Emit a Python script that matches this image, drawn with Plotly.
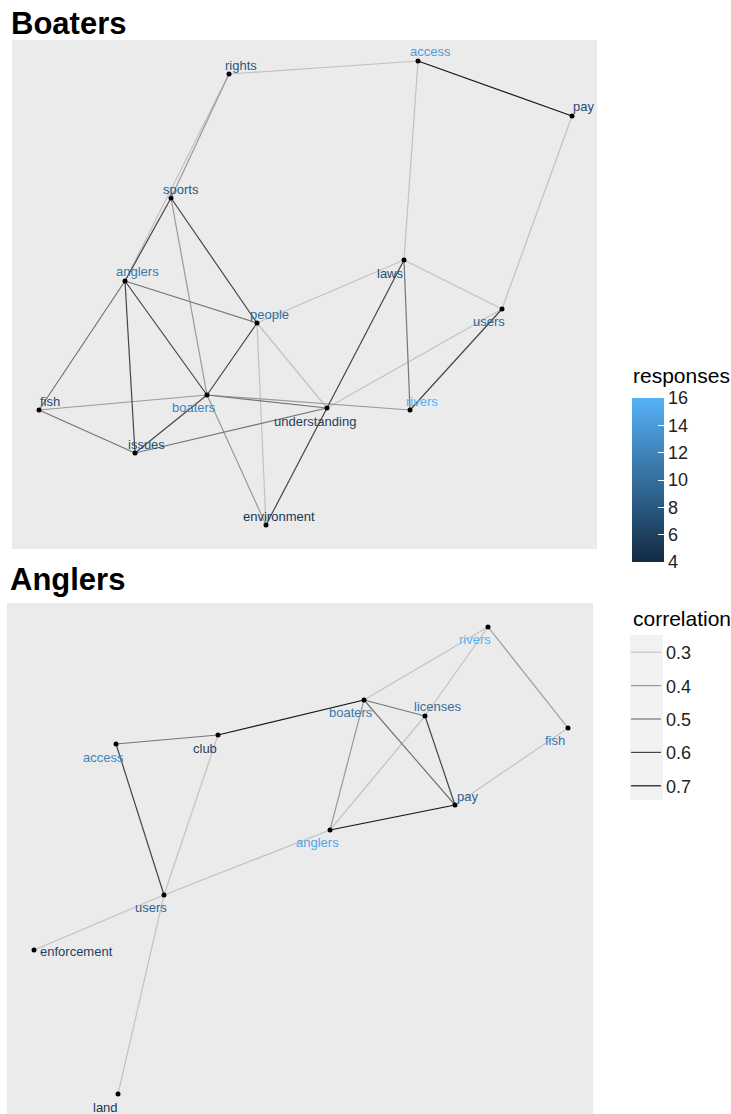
import plotly.graph_objects as go

W, H = 731, 1114

# ---------------- data ----------------
# Boaters network: node layout coordinates and responses
b_nodes = ["rights", "access", "pay", "sports", "anglers", "laws", "people", "users",
           "fish", "boaters", "understanding", "rivers", "issues", "environment"]
b_x = [229, 418, 572, 171, 125, 404, 257, 502, 39, 207, 327, 410, 135, 266]
b_y = [74, 61, 116, 198, 281, 260, 323, 309, 410, 395, 408, 410, 453, 525]
b_resp = [8, 14, 7, 8, 11, 7, 10, 9, 7, 12, 6, 16, 7, 5]

b_from = ["rights", "rights", "rights", "access", "access", "pay", "sports", "sports", "sports",
          "anglers", "anglers", "anglers", "anglers", "people", "people", "people", "people",
          "fish", "fish", "issues", "issues", "boaters", "boaters", "boaters",
          "understanding", "understanding", "understanding", "laws", "laws", "rivers"]
b_to = ["access", "sports", "anglers", "pay", "laws", "users", "anglers", "boaters", "people",
        "people", "boaters", "issues", "fish", "boaters", "laws", "environment", "understanding",
        "boaters", "issues", "boaters", "understanding", "understanding", "rivers", "environment",
        "laws", "environment", "users", "rivers", "users", "users"]
b_corr = [0.3, 0.4, 0.3, 0.7, 0.3, 0.3, 0.6, 0.4, 0.6,
          0.5, 0.6, 0.6, 0.5, 0.6, 0.3, 0.3, 0.3,
          0.4, 0.5, 0.6, 0.5, 0.5, 0.4, 0.4,
          0.6, 0.6, 0.3, 0.5, 0.3, 0.6]

# Anglers network
a_nodes = ["rivers", "boaters", "licenses", "fish", "pay", "anglers", "club", "access",
           "users", "enforcement", "land"]
a_x = [488, 364, 425, 568, 455, 330, 218, 116, 164, 34, 118]
a_y = [627, 700, 716, 728, 805, 830, 735, 744, 895, 950, 1094]
a_resp = [16, 11, 10, 11, 9, 15, 6, 12, 9, 6, 5]

a_from = ["rivers", "rivers", "licenses", "rivers", "boaters", "boaters", "boaters", "boaters",
          "licenses", "pay", "pay", "club", "club", "access", "users", "users", "users"]
a_to = ["boaters", "licenses", "anglers", "fish", "club", "licenses", "anglers", "pay",
        "pay", "anglers", "fish", "access", "users", "users", "anglers", "enforcement", "land"]
a_corr = [0.3, 0.3, 0.3, 0.4, 0.7, 0.5, 0.4, 0.5,
          0.6, 0.7, 0.3, 0.5, 0.3, 0.6, 0.3, 0.3, 0.3]

corr_levels = [0.3, 0.4, 0.5, 0.6, 0.7]
resp_min, resp_max = 4, 16
resp_ticks = [4, 6, 8, 10, 12, 14, 16]

# ---------------- styles ----------------
edge_colors = {0.3: "#c2c2c2", 0.4: "#9a9a9a", 0.5: "#757575", 0.6: "#454545", 0.7: "#141414"}
LOW, HIGH = "#132B43", "#56B1F7"
PANEL_BG = "#EBEBEB"
FONT = "Liberation Sans, Arial, sans-serif"

# label offsets in pixels (dx right, dy down)
b_off = {"rights": (12, -9), "access": (12, -10), "pay": (11, -10), "sports": (10, -9),
         "anglers": (12, -10), "laws": (-14, 13), "people": (12, -9), "users": (-13, 12),
         "fish": (11, -9), "boaters": (-13, 12), "understanding": (-12, 13), "rivers": (12, -9),
         "issues": (11, -9), "environment": (13, -9)}
a_off = {"rivers": (-13, 12), "boaters": (-13, 12), "licenses": (12, -10), "fish": (-13, 12),
         "pay": (12, -9), "anglers": (-13, 12), "club": (-13, 13), "access": (-13, 13),
         "users": (-13, 12), "enforcement": (42, 1), "land": (-13, 13)}


def hex2rgb(h):
    h = h.lstrip("#")
    return [int(h[i:i + 2], 16) for i in (0, 2, 4)]


def resp_color(v):
    t = (v - resp_min) / (resp_max - resp_min)
    lo, hi = hex2rgb(LOW), hex2rgb(HIGH)
    c = [round(lo[i] + (hi[i] - lo[i]) * t) for i in range(3)]
    return "rgb(%d,%d,%d)" % tuple(c)


fig = go.Figure()


def add_network(nodes, xs, ys, resp, efrom, eto, ecorr, offs, xa, ya, showlegend):
    pos = {n: (x, y) for n, x, y in zip(nodes, xs, ys)}
    for lvl in corr_levels:
        ex, ey = [], []
        for f, t, c in zip(efrom, eto, ecorr):
            if c == lvl:
                ex += [pos[f][0], pos[t][0], None]
                ey += [pos[f][1], pos[t][1], None]
        fig.add_trace(go.Scatter(
            x=ex if ex else [None], y=ey if ey else [None], mode="lines",
            line=dict(color=edge_colors[lvl], width=1.2),
            name=str(lvl), legendgroup=str(lvl), showlegend=showlegend,
            hoverinfo="skip", xaxis=xa, yaxis=ya))
    fig.add_trace(go.Scatter(
        x=xs, y=ys, mode="markers", marker=dict(color="black", size=5),
        showlegend=False, hoverinfo="text", text=nodes, xaxis=xa, yaxis=ya))
    for n, x, y, r in zip(nodes, xs, ys, resp):
        dx, dy = offs[n]
        fig.add_annotation(x=x, y=y, xref=xa, yref=ya, text=n, showarrow=False,
                           xshift=dx, yshift=-dy,
                           font=dict(family=FONT, size=13, color=resp_color(r)))


add_network(b_nodes, b_x, b_y, b_resp, b_from, b_to, b_corr, b_off, "x", "y", True)
add_network(a_nodes, a_x, a_y, a_resp, a_from, a_to, a_corr, a_off, "x2", "y2", False)

# colourbar for responses
fig.add_trace(go.Scatter(
    x=[None], y=[None], mode="markers", showlegend=False, hoverinfo="skip",
    marker=dict(color=[resp_min], cmin=resp_min, cmax=resp_max,
                colorscale=[[0, LOW], [1, HIGH]], showscale=True,
                colorbar=dict(
                    x=632 / W, xanchor="left", xpad=0,
                    y=1 - 398 / H, yanchor="top", ypad=0,
                    len=164, lenmode="pixels", thickness=32, thicknessmode="pixels",
                    tickvals=resp_ticks, ticks="inside", ticklen=6, tickcolor="white",
                    tickfont=dict(family=FONT, size=18, color="#222"),
                    outlinewidth=0)),
    xaxis="x", yaxis="y"))

# panels
fig.update_layout(
    width=W, height=H, margin=dict(l=0, r=0, t=0, b=0),
    paper_bgcolor="white", plot_bgcolor=PANEL_BG,
    xaxis=dict(domain=[12 / W, 597 / W], range=[12, 597], visible=False, fixedrange=True),
    yaxis=dict(domain=[1 - 549 / H, 1 - 40 / H], range=[549, 40], visible=False, fixedrange=True),
    xaxis2=dict(domain=[7 / W, 593 / W], range=[7, 593], visible=False, fixedrange=True),
    yaxis2=dict(domain=[0, 1 - 603 / H], range=[1114, 603], visible=False, fixedrange=True),
    legend=dict(
        x=626 / W, xanchor="left", y=1 - 634 / H, yanchor="top",
        bgcolor="rgba(0,0,0,0)", font=dict(family=FONT, size=18, color="#222"),
        tracegroupgap=7, itemwidth=30),
    showlegend=True,
)

# legend titles
fig.add_annotation(x=631 / W, y=1 - 376 / H, xref="paper", yref="paper", xanchor="left",
                   yanchor="middle", text="responses", showarrow=False,
                   font=dict(family=FONT, size=21, color="black"))
fig.add_annotation(x=631 / W, y=1 - 618 / H, xref="paper", yref="paper", xanchor="left",
                   yanchor="middle", text="correlation", showarrow=False,
                   font=dict(family=FONT, size=21, color="black"))

# grey key background of correlation legend
fig.add_shape(type="rect", xref="paper", yref="paper",
              x0=630 / W, x1=663 / W, y0=1 - 800 / H, y1=1 - 635 / H,
              fillcolor="#F2F2F2", line=dict(width=0), layer="below")

# panel backgrounds for both subplots
fig.add_shape(type="rect", xref="x domain", yref="y domain", x0=0, x1=1, y0=0, y1=1,
              fillcolor=PANEL_BG, line=dict(width=0), layer="below")
fig.add_shape(type="rect", xref="x2 domain", yref="y2 domain", x0=0, x1=1, y0=0, y1=1,
              fillcolor=PANEL_BG, line=dict(width=0), layer="below")

# titles
fig.add_annotation(x=9 / W, y=1 - 4 / H, xref="paper", yref="paper", xanchor="left", yanchor="top",
                   text="<b>Boaters</b>", showarrow=False,
                   font=dict(family=FONT, size=31, color="black"))
fig.add_annotation(x=8 / W, y=1 - 560 / H, xref="paper", yref="paper", xanchor="left", yanchor="top",
                   text="<b>Anglers</b>", showarrow=False,
                   font=dict(family=FONT, size=31, color="black"))

fig.write_html("out.html")
